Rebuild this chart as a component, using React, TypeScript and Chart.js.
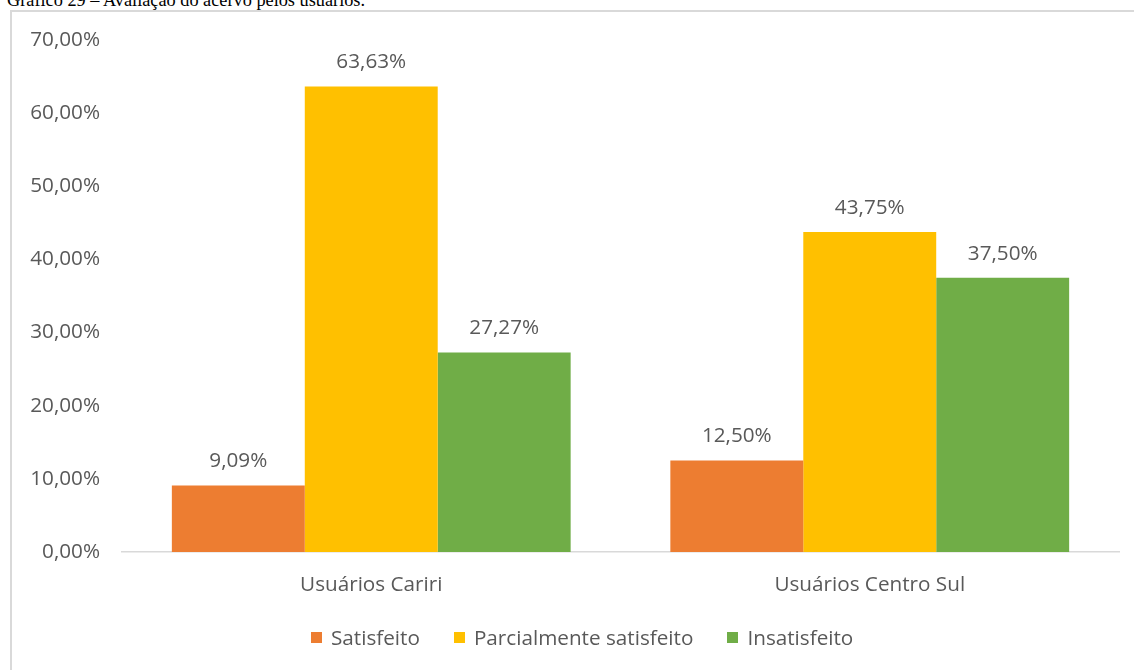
import React, { useEffect, useRef } from "react";
import { Chart, registerables } from "chart.js";

Chart.register(...registerables);

const categories = ["Usuários Cariri", "Usuários Centro Sul"];
const seriesNames = ["Satisfeito", "Parcialmente satisfeito", "Insatisfeito"];
const satisfeito = [9.09, 12.5];
const parcialmente = [63.63, 43.75];
const insatisfeito = [27.27, 37.5];
const seriesColors = ["#ED7D31", "#FFC000", "#70AD47"];
const yMax = 70;
const yStep = 10;
const caption = "Gráfico 29 – Avaliação do acervo pelos usuários.";

const FONT = "'Open Sans', 'Noto Sans', sans-serif";
const TEXT = "#595959";
const FS = 20.7;

const fmt = (v: number) => v.toFixed(2).replace(".", ",") + "%";

const labelPlugin = {
  id: "barLabels",
  afterDatasetsDraw(chart: any) {
    const ctx = chart.ctx;
    ctx.save();
    ctx.font = `${FS}px ${FONT}`;
    ctx.fillStyle = TEXT;
    ctx.textAlign = "center";
    ctx.textBaseline = "middle";
    chart.data.datasets.forEach((ds: any, i: number) => {
      const meta = chart.getDatasetMeta(i);
      meta.data.forEach((bar: any, j: number) => {
        ctx.fillText(fmt(ds.data[j]), bar.x, bar.y - 24);
      });
    });
    ctx.restore();
  },
};

export default function App() {
  const ref = useRef<HTMLCanvasElement | null>(null);
  useEffect(() => {
    if (!ref.current) return;
    const seriesData = [satisfeito, parcialmente, insatisfeito];
    const chart = new Chart(ref.current, {
      type: "bar",
      data: {
        labels: categories,
        datasets: seriesNames.map((name, i) => ({
          label: name,
          data: seriesData[i],
          backgroundColor: seriesColors[i],
          categoryPercentage: 0.8,
          barPercentage: 1.0,
        })),
      },
      options: {
        animation: false,
        responsive: false,
        maintainAspectRatio: false,
        layout: { padding: { top: 40, right: 15, left: 0, bottom: 0 } },
        plugins: {
          legend: { display: false },
          tooltip: { enabled: false },
        },
        scales: {
          x: {
            grid: { display: false, drawTicks: false },
            border: { display: true, color: "#d9d9d9", width: 1.5 },
            ticks: {
              color: TEXT,
              font: { family: FONT, size: FS },
              padding: 21,
            },
            afterFit: (s: any) => {
              s.height = 118;
            },
          },
          y: {
            min: 0,
            max: yMax,
            grid: { display: false, drawTicks: false },
            border: { display: false },
            ticks: {
              stepSize: yStep,
              color: TEXT,
              font: { family: FONT, size: FS },
              padding: 22,
              callback: (v: any) => fmt(Number(v)),
            },
            afterFit: (s: any) => {
              s.width = 122;
            },
          },
        },
      },
      plugins: [labelPlugin],
    });
    return () => chart.destroy();
  }, []);

  return (
    <div
      style={{
        position: "fixed",
        left: 0,
        top: 0,
        width: 1134,
        height: 670,
        overflow: "hidden",
        background: "#fff",
      }}
    >
      <div
        style={{
          position: "absolute",
          left: 7,
          top: -9,
          fontFamily: "'Liberation Serif', 'Times New Roman', serif",
          fontSize: 18.3,
          lineHeight: "18px",
          color: "#000",
          whiteSpace: "nowrap",
        }}
      >
        {caption}
      </div>
      <div
        style={{
          position: "absolute",
          left: 10,
          top: 10,
          width: 1200,
          height: 700,
          border: "2px solid #d9d9d9",
          boxSizing: "border-box",
        }}
      />
      <canvas
        ref={ref}
        width={1134}
        height={670}
        style={{ position: "absolute", left: 0, top: 0, width: 1134, height: 670 }}
      />
      <div
        style={{
          position: "absolute",
          left: 311,
          top: 624,
          display: "flex",
          alignItems: "center",
          gap: 34,
          fontFamily: FONT,
          fontSize: FS,
          lineHeight: "26px",
          color: TEXT,
          whiteSpace: "nowrap",
        }}
      >
        {seriesNames.map((name, i) => (
          <div key={name} style={{ display: "flex", alignItems: "center" }}>
            <span
              style={{
                display: "inline-block",
                width: 11,
                height: 11,
                background: seriesColors[i],
                marginRight: 9,
              }}
            />
            <span>{name}</span>
          </div>
        ))}
      </div>
    </div>
  );
}
